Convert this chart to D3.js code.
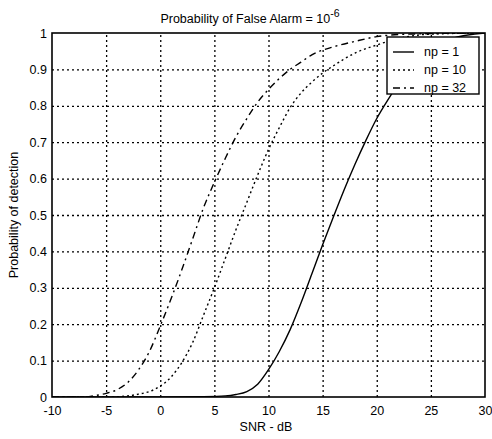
<!DOCTYPE html>
<html>
  <head>
    <meta charset="utf-8">
    <title>Probability of detection</title>
    <script src="https://d3js.org/d3.v7.min.js"></script>
    <style>
      body { margin: 0; background: #fff; }
      text { font-family: "Liberation Sans", Arial, sans-serif; fill: #000; }
      .tick text { font-size: 12.5px; }
      .grid line { stroke: #000; stroke-width: 1.3; stroke-dasharray: 2,3; }
      .grid path { display: none; }
      .axis path { display: none; }
      .axis line { stroke: #000; }
      .title, .label { font-size: 12.5px; }
      .legend text { font-size: 12.5px; }
    </style>
  </head>
  <body>
    <svg width="492" height="439"></svg>
    <script>
      // SNR (dB) ticks and y ticks
      const xTicks = [-10, -5, 0, 5, 10, 15, 20, 25, 30];
      const yTicks = [0, 0.1, 0.2, 0.3, 0.4, 0.5, 0.6, 0.7, 0.8, 0.9, 1];

      // np = 1
      const snr1 = [-10, 0, 4, 6, 7, 8, 9, 10, 11, 12, 13, 14, 15, 16, 17, 18, 19, 20, 21, 22, 23, 24, 25, 27, 30];
      const pd1 = [0, 0, 0.001, 0.003, 0.007, 0.015, 0.035, 0.075, 0.125, 0.185, 0.258, 0.338, 0.418, 0.495, 0.57, 0.64, 0.705, 0.765, 0.815, 0.86, 0.9, 0.93, 0.955, 0.985, 1.0];

      // np = 10
      const snr10 = [-10, -5, -3, -2, -1, 0, 1, 2, 3, 4, 5, 6, 7, 8, 9, 10, 11, 12, 13, 14, 15, 16, 18, 20, 22, 25, 30];
      const pd10 = [0, 0, 0.003, 0.008, 0.015, 0.03, 0.055, 0.095, 0.15, 0.225, 0.3, 0.38, 0.46, 0.535, 0.61, 0.68, 0.74, 0.795, 0.835, 0.865, 0.89, 0.91, 0.945, 0.967, 0.985, 0.997, 1];

      // np = 32
      const snr32 = [-10, -7, -6, -5, -4, -3, -2, -1, 0, 1, 2, 3, 4, 5, 6, 7, 8, 9, 10, 11, 12, 13, 14, 16, 18, 20, 23, 30];
      const pd32 = [0, 0, 0.004, 0.01, 0.02, 0.04, 0.075, 0.125, 0.195, 0.27, 0.35, 0.435, 0.52, 0.59, 0.655, 0.715, 0.765, 0.81, 0.845, 0.875, 0.9, 0.92, 0.94, 0.962, 0.977, 0.99, 0.997, 1];

      const seriesNames = ["np = 1", "np = 10", "np = 32"];
      const dashes = [null, "2,3", "7,4,2,4"];

      const series = [
        { name: seriesNames[0], snr: snr1, pd: pd1, dash: dashes[0] },
        { name: seriesNames[1], snr: snr10, pd: pd10, dash: dashes[1] },
        { name: seriesNames[2], snr: snr32, pd: pd32, dash: dashes[2] }
      ];

      const svg = d3.select("svg");
      const plotLeft = 52, plotRight = 485, plotTop = 33, plotBottom = 397;

      const x = d3.scaleLinear().domain([-10, 30]).range([plotLeft, plotRight]);
      const y = d3.scaleLinear().domain([0, 1]).range([plotBottom, plotTop]);

      // grid
      svg.append("g")
        .attr("class", "grid")
        .attr("transform", `translate(0,${plotBottom})`)
        .call(d3.axisBottom(x).tickValues(xTicks.slice(1, -1)).tickSize(-(plotBottom - plotTop)).tickFormat(""));
      svg.append("g")
        .attr("class", "grid")
        .attr("transform", `translate(${plotLeft},0)`)
        .call(d3.axisLeft(y).tickValues(yTicks.slice(1, -1)).tickSize(-(plotRight - plotLeft)).tickFormat(""));

      // tick labels
      svg.append("g")
        .attr("class", "axis")
        .attr("transform", `translate(0,${plotBottom})`)
        .call(d3.axisBottom(x).tickValues(xTicks).tickSize(0).tickPadding(9).tickFormat(d => String(d)));
      svg.append("g")
        .attr("class", "axis")
        .attr("transform", `translate(${plotLeft},0)`)
        .call(d3.axisLeft(y).tickValues(yTicks).tickSize(0).tickPadding(5).tickFormat(d => d === 0 || d === 1 ? d : d3.format(".1f")(d)));

      // curves
      svg.append("clipPath").attr("id", "clip")
        .append("rect").attr("x", plotLeft).attr("y", plotTop)
        .attr("width", plotRight - plotLeft).attr("height", plotBottom - plotTop);

      const line = d3.line()
        .x(d => x(d[0]))
        .y(d => y(d[1]))
        .curve(d3.curveMonotoneX);

      svg.append("g").attr("clip-path", "url(#clip)")
        .selectAll("path")
        .data(series)
        .enter().append("path")
          .attr("d", s => line(s.snr.map((v, i) => [v, s.pd[i]])))
          .attr("fill", "none")
          .attr("stroke", "#000")
          .attr("stroke-width", 1.4)
          .attr("stroke-dasharray", s => s.dash);

      // axes box
      svg.append("rect")
        .attr("x", plotLeft).attr("y", plotTop)
        .attr("width", plotRight - plotLeft).attr("height", plotBottom - plotTop)
        .attr("fill", "none").attr("stroke", "#000").attr("stroke-width", 1.6);

      // title
      const title = svg.append("text")
        .attr("class", "title")
        .attr("x", 250).attr("y", 23)
        .attr("text-anchor", "middle");
      title.append("tspan").text("Probability of False Alarm  = 10");
      title.append("tspan").attr("dy", -6).attr("font-size", "10.5px").text("-6");

      svg.append("text")
        .attr("class", "label")
        .attr("x", 266).attr("y", 431)
        .attr("text-anchor", "middle")
        .text("SNR - dB");

      svg.append("text")
        .attr("class", "label")
        .attr("transform", "translate(18,215) rotate(-90)")
        .attr("text-anchor", "middle")
        .text("Probability of detection");

      // legend
      const legendG = svg.append("g")
        .attr("class", "legend")
        .attr("transform", "translate(387,37)");
      legendG.append("rect")
        .attr("width", 92).attr("height", 57)
        .attr("fill", "#fff").attr("stroke", "#000").attr("stroke-width", 1.4);
      const items = legendG.selectAll(".item")
        .data(series)
        .enter().append("g")
          .attr("class", "item")
          .attr("transform", (d, i) => `translate(0,${15 + i * 18})`);
      items.append("line")
        .attr("x1", 6).attr("x2", 27)
        .attr("stroke", "#000").attr("stroke-width", 1.4)
        .attr("stroke-dasharray", d => d.dash);
      items.append("text")
        .attr("x", 37).attr("dy", "0.35em")
        .text(d => d.name);
    </script>
  </body>
</html>
